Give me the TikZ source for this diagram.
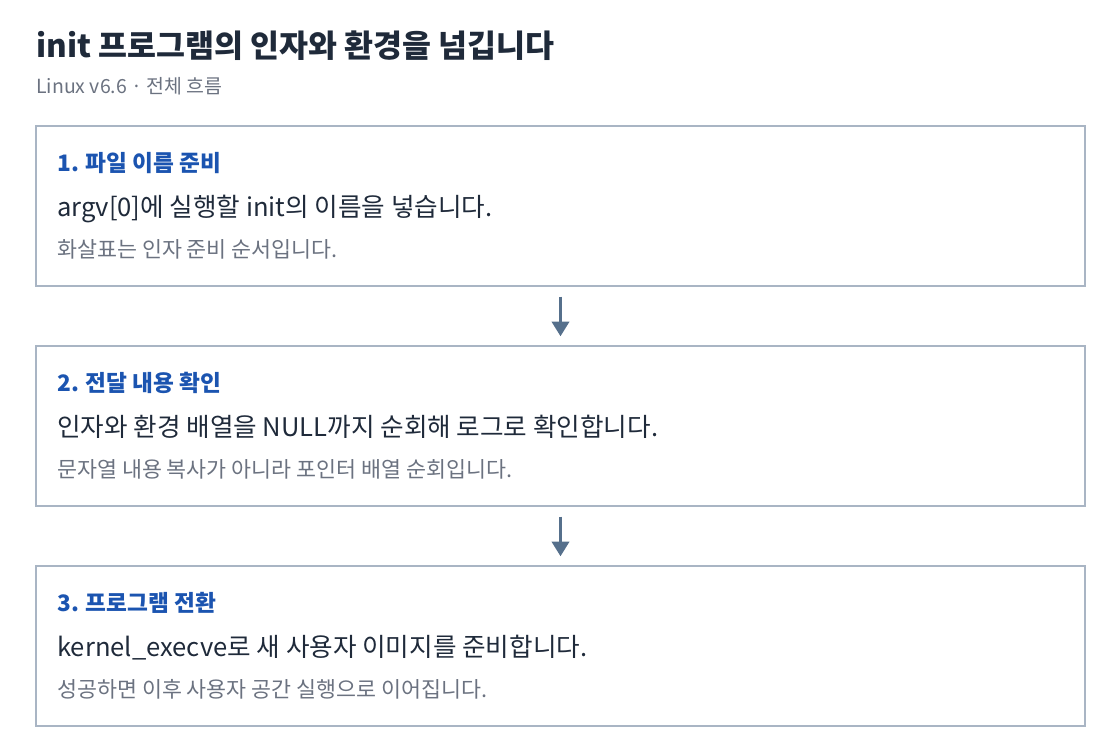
\documentclass[tikz,border=0pt]{standalone}
\usepackage{fontspec}
\setmainfont{Noto Sans CJK KR}
\usetikzlibrary{arrows.meta}

\definecolor{titlecol}{HTML}{1F2A3A}
\definecolor{headcol}{HTML}{1B54B0}
\definecolor{notecol}{HTML}{6B7280}
\definecolor{framecol}{HTML}{A9B5C4}
\definecolor{arrowcol}{HTML}{56708C}

\tikzset{
  stepbox/.style={draw=framecol, line width=1pt, minimum width=786.75pt, minimum height=120pt, inner sep=0pt},
  headtext/.style={anchor=base west, inner sep=0pt, text=headcol, font=\fontsize{17}{20}\selectfont\bfseries},
  bodytext/.style={anchor=base west, inner sep=0pt, text=titlecol, font=\fontsize{19.2}{22}\selectfont},
  notetext/.style={anchor=base west, inner sep=0pt, text=notecol, font=\fontsize{16.3}{19}\selectfont},
  flow/.style={draw=arrowcol, line width=2.6pt, -{Triangle[width=12.75pt, length=11pt]}, shorten <=7.5pt, shorten >=6.75pt}
}

\begin{document}
\begin{tikzpicture}[x=0.75pt, y=-0.75pt]

\useasboundingbox (0,0) rectangle (1120,754);

% Title
\node[anchor=base west, inner sep=0pt, text=titlecol, font=\fontsize{23.6}{27}\selectfont\bfseries] (title) at (36,57) {init 프로그램의 인자와 환경을 넘깁니다};
\node[anchor=base west, inner sep=0pt, text=notecol, font=\fontsize{14.6}{17}\selectfont] (subtitle) at (36,93) {Linux v6.6 · 전체 흐름};

% Step 1
\node[stepbox] (box1) at (560.5,206) {};
\node[headtext] (head1) at (57,171) {1. 파일 이름 준비};
\node[bodytext] (body1) at (57,216) {argv[0]에 실행할 init의 이름을 넣습니다.};
\node[notetext] (note1) at (57,257) {화살표는 인자 준비 순서입니다.};

% Step 2
\node[stepbox] (box2) at (560.5,426) {};
\node[headtext] (head2) at (57,391) {2. 전달 내용 확인};
\node[bodytext] (body2) at (57,436) {인자와 환경 배열을 NULL까지 순회해 로그로 확인합니다.};
\node[notetext] (note2) at (57,477) {문자열 내용 복사가 아니라 포인터 배열 순회입니다.};

% Step 3
\node[stepbox] (box3) at (560.5,646) {};
\node[headtext] (head3) at (57,611) {3. 프로그램 전환};
\node[bodytext] (body3) at (57,656) {kernel\_execve로 새 사용자 이미지를 준비합니다.};
\node[notetext] (note3) at (57,697) {성공하면 이후 사용자 공간 실행으로 이어집니다.};

% Arrows between steps
\draw[flow] (box1) -- (box2);
\draw[flow] (box2) -- (box3);

\end{tikzpicture}
\end{document}
